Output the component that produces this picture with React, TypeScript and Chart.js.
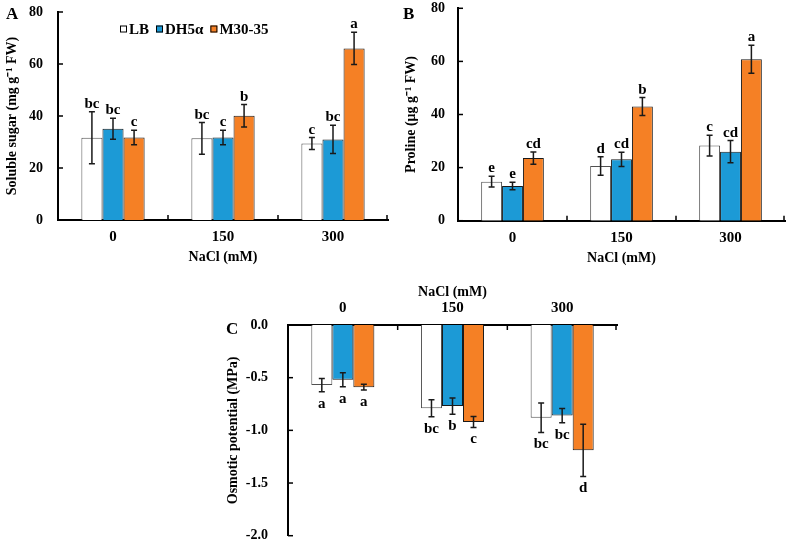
import React, { useEffect, useRef } from 'react';
import { Chart, registerables } from 'chart.js';

Chart.register(...registerables);

const FAMILY = "'Liberation Serif', 'Times New Roman', serif";
Chart.defaults.font.family = FAMILY;
Chart.defaults.font.weight = 'bold';
Chart.defaults.color = '#000';

// ---------- shared ----------
const categories = ['0', '150', '300'];
const seriesNames = ['LB', 'DH5α', 'M30-35'];
const seriesColors = ['#FFFFFF', '#1C9AD6', '#F58025'];
const seriesBorders = ['#505050', '#1a1a1a', '#1a1a1a'];
const xTitle = 'NaCl (mM)';

// ---------- A: soluble sugar ----------
const sugarLB = [31.6, 31.4, 29.4];
const sugarDH = [35.1, 31.7, 31.0];
const sugarM = [31.7, 40.1, 66.0];
const sugarErrLB = [10.0, 6.1, 2.3];
const sugarErrDH = [4.0, 2.8, 5.4];
const sugarErrM = [2.8, 4.3, 6.2];
const sugarLetLB = ['bc', 'bc', 'c'];
const sugarLetDH = ['bc', 'c', 'bc'];
const sugarLetM = ['c', 'b', 'a'];
const sugarTicks = { min: 0, max: 80, step: 20 };

// ---------- B: proline ----------
const proLB = [14.7, 20.6, 28.3];
const proDH = [13.1, 23.1, 26.0];
const proM = [23.6, 43.0, 60.8];
const proErrLB = [2.0, 3.5, 3.9];
const proErrDH = [1.4, 2.7, 4.2];
const proErrM = [2.3, 3.4, 5.3];
const proLetLB = ['e', 'd', 'c'];
const proLetDH = ['e', 'cd', 'cd'];
const proLetM = ['cd', 'b', 'a'];
const proTicks = { min: 0, max: 80, step: 20 };

// ---------- C: osmotic potential ----------
const osmLB = [-0.57, -0.79, -0.88];
const osmDH = [-0.52, -0.77, -0.86];
const osmM = [-0.59, -0.92, -1.19];
const osmErrLB = [0.063, 0.08, 0.14];
const osmErrDH = [0.066, 0.078, 0.067];
const osmErrM = [0.027, 0.052, 0.247];
const osmLetLB = ['a', 'bc', 'bc'];
const osmLetDH = ['a', 'b', 'bc'];
const osmLetM = ['a', 'c', 'd'];
const osmTicks = { min: -2, max: 0, step: 0.5 };

type Spec = {
  label: string;
  labelPos: [number, number];
  series: number[][];
  errors: number[][];
  letters: string[][];
  ticks: { min: number; max: number; step: number };
  decimals: number;
  yTitle: string;
  xTop: boolean;
  padding: { top: number; right: number; bottom: number; left: number };
  yWidth: number;
  xHeight: number;
  yTickPad: number;
  yTitlePad: number;
  xTickPad: number;
  xTitlePad: number;
  legend: [number, number] | null;
};

function annotPlugin(spec: Spec) {
  return {
    id: 'annot' + spec.label,
    afterDraw(chart: any) {
      const ctx = chart.ctx as CanvasRenderingContext2D;
      const ys = chart.scales.y;
      const xs = chart.scales.x;
      const ca = chart.chartArea;
      ctx.save();
      // inner tick marks
      ctx.strokeStyle = '#000';
      ctx.lineWidth = 1.5;
      ys.ticks.forEach((_t: any, i: number) => {
        const y = ys.getPixelForTick(i);
        ctx.beginPath();
        ctx.moveTo(ca.left, y);
        ctx.lineTo(ca.left + 5, y);
        ctx.stroke();
      });
      const n = chart.data.labels.length;
      const axisY = spec.xTop ? ca.top : ca.bottom;
      const dir = spec.xTop ? 1 : -1;
      const bounds: number[] = [];
      for (let i = 1; i < n; i++) bounds.push((xs.getPixelForTick(i - 1) + xs.getPixelForTick(i)) / 2);
      bounds.push(ca.right - 1);
      bounds.forEach((x) => {
        ctx.beginPath();
        ctx.moveTo(x, axisY);
        ctx.lineTo(x, axisY + dir * 5);
        ctx.stroke();
      });

      // error bars and letters
      ctx.font = `bold 15px ${FAMILY}`;
      ctx.textAlign = 'center';
      ctx.textBaseline = 'alphabetic';
      chart.data.datasets.forEach((ds: any, di: number) => {
        const meta = chart.getDatasetMeta(di);
        ds.data.forEach((v: number, j: number) => {
          const e = ds.errors[j];
          const x = meta.data[j].x;
          const yHi = ys.getPixelForValue(v + e);
          const yLo = ys.getPixelForValue(v - e);
          ctx.strokeStyle = '#1a1a1a';
          ctx.lineWidth = 1.5;
          ctx.beginPath();
          ctx.moveTo(x, yHi);
          ctx.lineTo(x, yLo);
          ctx.moveTo(x - 3, yHi);
          ctx.lineTo(x + 3, yHi);
          ctx.moveTo(x - 3, yLo);
          ctx.lineTo(x + 3, yLo);
          ctx.stroke();
          ctx.fillStyle = '#000';
          if (v >= 0) ctx.fillText(ds.letters[j], x, yHi - 4);
          else ctx.fillText(ds.letters[j], x, yLo + 16);
        });
      });

      // panel letter
      ctx.font = `bold 17px ${FAMILY}`;
      ctx.textAlign = 'left';
      ctx.fillText(spec.label, spec.labelPos[0], spec.labelPos[1]);

      // legend
      if (spec.legend) {
        let lx = spec.legend[0];
        const ly = spec.legend[1];
        ctx.font = `bold 15px ${FAMILY}`;
        ctx.textBaseline = 'middle';
        chart.data.datasets.forEach((ds: any) => {
          ctx.fillStyle = ds.backgroundColor;
          ctx.fillRect(lx, ly - 3.5, 7, 7);
          ctx.strokeStyle = '#000';
          ctx.lineWidth = 1;
          ctx.strokeRect(lx + 0.5, ly - 3, 6, 6);
          lx += 9;
          ctx.fillStyle = '#000';
          ctx.fillText(ds.label, lx, ly + 1);
          lx += ctx.measureText(ds.label).width + 7;
        });
      }
      ctx.restore();
    },
  };
}

function buildChart(canvas: HTMLCanvasElement, spec: Spec) {
  const font = (size: number) => ({ size, weight: 'bold' as const, family: FAMILY });
  return new Chart(canvas, {
    type: 'bar',
    data: {
      labels: categories,
      datasets: spec.series.map((vals, i) => ({
        label: seriesNames[i],
        data: vals,
        errors: spec.errors[i],
        letters: spec.letters[i],
        backgroundColor: seriesColors[i],
        borderColor: seriesBorders[i],
        borderWidth: 1,
        categoryPercentage: 0.575,
        barPercentage: 1,
      })) as any,
    },
    options: {
      responsive: false,
      animation: false,
      layout: { padding: spec.padding },
      plugins: { legend: { display: false }, tooltip: { enabled: false } },
      scales: {
        x: {
          position: spec.xTop ? 'top' : 'bottom',
          grid: { display: false, drawTicks: false },
          border: { display: true, color: '#000', width: 2 },
          ticks: { font: font(15), color: '#000', padding: spec.xTickPad },
          title: {
            display: true,
            text: xTitle,
            font: font(14),
            color: '#000',
            padding: spec.xTop ? { top: spec.xTitlePad, bottom: 0 } : { top: 0, bottom: spec.xTitlePad },
          },
          afterFit: (s: any) => {
            s.height = spec.xHeight;
            s.paddingLeft = 0;
            s.paddingRight = 0;
          },
        },
        y: {
          min: spec.ticks.min,
          max: spec.ticks.max,
          grid: { display: false, drawTicks: false },
          border: { display: true, color: '#000', width: 2 },
          ticks: {
            stepSize: spec.ticks.step,
            font: font(14),
            color: '#000',
            padding: spec.yTickPad,
            callback: (v: any) => Number(v).toFixed(spec.decimals),
          },
          title: {
            display: true,
            text: spec.yTitle,
            font: font(14),
            color: '#000',
            padding: { top: spec.yTitlePad, bottom: 0 },
          },
          afterFit: (s: any) => {
            s.width = spec.yWidth;
            s.paddingTop = 0;
            s.paddingBottom = 0;
          },
        },
      },
    } as any,
    plugins: [annotPlugin(spec)],
  });
}

const specA: Spec = {
  label: 'A',
  labelPos: [6, 19],
  series: [sugarLB, sugarDH, sugarM],
  errors: [sugarErrLB, sugarErrDH, sugarErrM],
  letters: [sugarLetLB, sugarLetDH, sugarLetM],
  ticks: sugarTicks,
  decimals: 0,
  yTitle: 'Soluble sugar (mg g⁻¹ FW)',
  xTop: false,
  padding: { top: 12, right: 7, bottom: 0, left: 0 },
  yWidth: 58,
  xHeight: 55,
  yTickPad: 15,
  yTitlePad: 3.6,
  xTickPad: 8,
  xTitlePad: 9.6,
  legend: [120, 29],
};

const specB: Spec = {
  label: 'B',
  labelPos: [8, 18.5],
  series: [proLB, proDH, proM],
  errors: [proErrLB, proErrDH, proErrM],
  letters: [proLetLB, proLetDH, proLetM],
  ticks: proTicks,
  decimals: 0,
  yTitle: 'Proline (μg g⁻¹ FW)',
  xTop: false,
  padding: { top: 8.3, right: 7, bottom: 0, left: 0 },
  yWidth: 63,
  xHeight: 54.3,
  yTickPad: 13,
  yTitlePad: 7.6,
  xTickPad: 8.3,
  xTitlePad: 8.6,
  legend: null,
};

const specC: Spec = {
  label: 'C',
  labelPos: [6, 64],
  series: [osmLB, osmDH, osmM],
  errors: [osmErrLB, osmErrDH, osmErrM],
  letters: [osmLetLB, osmLetDH, osmLetM],
  ticks: osmTicks,
  decimals: 1,
  yTitle: 'Osmotic potential (MPa)',
  xTop: true,
  padding: { top: 0, right: 3, bottom: 9.3, left: 0 },
  yWidth: 68,
  xHeight: 55,
  yTickPad: 20,
  yTitlePad: 4.6,
  xTickPad: 8,
  xTitlePad: 13.6,
  legend: null,
};

export default function App() {
  const refA = useRef<HTMLCanvasElement>(null);
  const refB = useRef<HTMLCanvasElement>(null);
  const refC = useRef<HTMLCanvasElement>(null);

  useEffect(() => {
    const charts = [
      buildChart(refA.current!, specA),
      buildChart(refB.current!, specB),
      buildChart(refC.current!, specC),
    ];
    return () => charts.forEach((c) => c.destroy());
  }, []);

  return (
    <div style={{ position: 'absolute', left: 0, top: 0, width: 792, height: 545, background: '#fff' }}>
      <canvas ref={refA} width={395} height={275} style={{ position: 'absolute', left: 0, top: 0 }} />
      <canvas ref={refB} width={397} height={275} style={{ position: 'absolute', left: 395, top: 0 }} />
      <canvas ref={refC} width={400} height={275} style={{ position: 'absolute', left: 220, top: 270 }} />
    </div>
  );
}
